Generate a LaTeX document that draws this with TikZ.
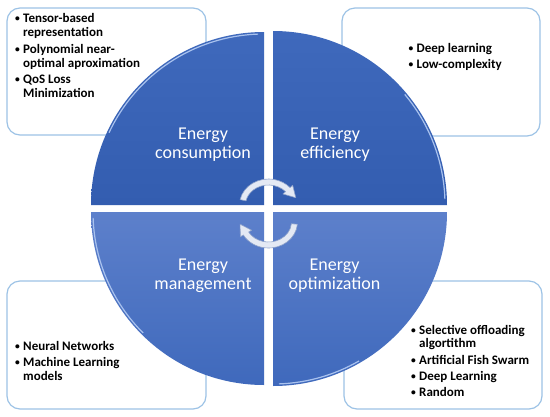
\documentclass[tikz,border=0pt]{standalone}
\usepackage{fontspec}
\setmainfont{Carlito}
\usetikzlibrary{arrows.meta,calc}
\definecolor{boxblue}{HTML}{9DC3E6}
\definecolor{qdark}{HTML}{335DB0}
\definecolor{qmid}{HTML}{3F69BC}
\definecolor{qlight}{HTML}{5D80CB}
\definecolor{hilite}{HTML}{A9C2EE}
\definecolor{arrowfill}{HTML}{E4E9F4}
\definecolor{arrowedge}{HTML}{8EA2CA}
\newcommand\smallbul{\raisebox{1pt}{\fontsize{9.5}{9.5}\selectfont •}}
\newcommand\bl[4]{\node[bt] (#1) at (#2,#3) {\makebox[9pt][l]{\hspace*{1pt}\smallbul}#4};}
\newcommand\cl[4]{\node[bt] (#1) at (#2,#3) {\hspace*{9pt}#4};}
\newcommand\ql[4]{\node[qt] (#1) at (#2,#3) {#4};}
\begin{document}
\begin{tikzpicture}[x=1pt,y=-1pt,
  infobox/.style={draw=boxblue, line width=1.2pt, rounded corners=13pt, fill=white},
  qt/.style={text=white, font=\fontsize{18}{19}\selectfont, anchor=base, inner sep=0pt},
  bt/.style={font=\bfseries\fontsize{13}{14}\selectfont, anchor=base west, inner sep=0pt},
  cyc/.style={fill=arrowfill, draw=arrowedge, line width=0.6pt, line join=round},
  hl/.style={draw=hilite, line width=1.2pt}]
\useasboundingbox (0,0) rectangle (550,416);
\fill[white] (0,0) rectangle (550,416);
% info boxes
\draw[infobox] (7,8) rectangle (206,135);
\draw[infobox] (342,8) rectangle (540,136);
\draw[infobox] (7,281) rectangle (206,409);
\draw[infobox] (344,281) rectangle (542,409);
% quadrants
\shade[top color=qmid, bottom color=qdark] (264,205) -- (91,205) arc[start angle=180,end angle=270,radius=173] -- cycle;
\shade[top color=qmid, bottom color=qdark] (273,205) -- (273,31) arc[start angle=270,end angle=360,radius=174] -- cycle;
\shade[top color=qlight, bottom color=qmid] (264,212) -- (264,385) arc[start angle=90,end angle=180,radius=173] -- cycle;
\shade[top color=qlight, bottom color=qmid] (273,212) -- (447,212) arc[start angle=0,end angle=90,radius=174] -- cycle;
% highlights
\draw[hl] (264,205) ++(205:171) arc[start angle=205,end angle=268,radius=171];
\draw[hl] (273,205) ++(-40:172) arc[start angle=-40,end angle=-2,radius=172];
\draw[hl] (264,212) ++(135:171) arc[start angle=135,end angle=178,radius=171];
\draw[hl] (273,212) ++(60:172) arc[start angle=60,end angle=88,radius=172];
% cycle arrows
\coordinate (ca) at (268.5,205);
\coordinate (cb) at (268.5,222);
\draw[cyc] ($(ca)+(192:29 and 26)$) arc[start angle=192,end angle=318,x radius=29,y radius=26]
  -- ($(ca)+(318:32.5 and 29.5)$) -- ($(ca)+(343:28.5 and 25)$) -- ($(ca)+(318:19.5 and 16.5)$)
  -- ($(ca)+(318:23 and 20)$) arc[start angle=318,end angle=192,x radius=23,y radius=20] -- cycle;
\draw[cyc] ($(cb)+(5:29 and 26)$) arc[start angle=5,end angle=150,x radius=29,y radius=26]
  -- ($(cb)+(150:32.5 and 29.5)$) -- ($(cb)+(175:28.5 and 25)$) -- ($(cb)+(150:19.5 and 16.5)$)
  -- ($(cb)+(150:23 and 20)$) arc[start angle=150,end angle=5,x radius=23,y radius=20] -- cycle;
% quadrant labels
\ql{q1a}{203}{139.5}{Energy}
\ql{q1b}{203}{158.5}{consumption}
\ql{q2a}{335}{139.5}{Energy}
\ql{q2b}{335}{158.5}{efficiency}
\ql{q3a}{203}{270}{Energy}
\ql{q3b}{203}{289}{management}
\ql{q4a}{334.5}{270}{Energy}
\ql{q4b}{334.5}{289}{optimization}
% box texts
\bl{t1a}{14}{22}{Tensor-based}
\cl{t1b}{14}{36}{representation}
\bl{t1c}{14}{53}{Polynomial near-}
\cl{t1d}{14}{67}{optimal aproximation}
\bl{t1e}{14}{83}{QoS Loss}
\cl{t1f}{14}{97}{Minimization}
\bl{t2a}{407.5}{52}{Deep learning}
\bl{t2b}{407.5}{68}{Low-complexity}
\bl{t3a}{14}{350}{Neural Networks}
\bl{t3b}{14}{366.5}{Machine Learning}
\cl{t3c}{14}{380}{models}
\bl{t4a}{410}{334}{Selective offloading}
\cl{t4b}{410}{347.5}{algortithm}
\bl{t4c}{410}{364}{Artificial Fish Swarm}
\bl{t4d}{410}{380}{Deep Learning}
\bl{t4e}{410}{396}{Random}
\end{tikzpicture}
\end{document}
